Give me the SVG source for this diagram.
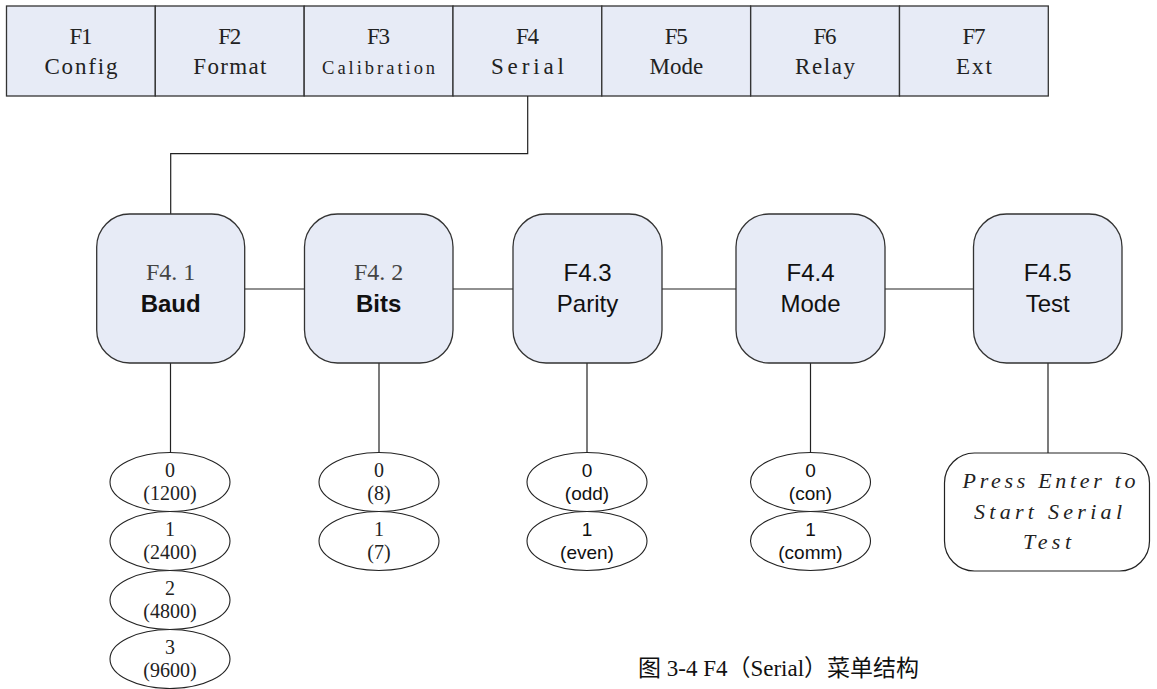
<svg xmlns="http://www.w3.org/2000/svg" width="1157" height="689" viewBox="0 0 1157 689">
<style>
.cell{fill:#E7EBF6;stroke:#333;stroke-width:1.3}
.tb{font-family:"Liberation Serif",serif;font-size:23px;fill:#222;text-anchor:middle}
.box{fill:#E7EBF6;stroke:#333;stroke-width:1.3}
.ser{font-family:"Liberation Serif",serif;font-size:24px;fill:#444;text-anchor:middle}
.sb{font-family:"Liberation Sans",Arial,sans-serif;font-size:24px;font-weight:bold;fill:#111;text-anchor:middle}
.sn{font-family:"Liberation Sans",Arial,sans-serif;font-size:24px;fill:#111;text-anchor:middle}
.el{fill:#fff;stroke:#222;stroke-width:1.1}
.et{font-family:"Liberation Serif",serif;font-size:20px;fill:#222;text-anchor:middle}
.es{font-family:"Liberation Sans",Arial,sans-serif;font-size:19px;fill:#111;text-anchor:middle}
.it{font-family:"Liberation Serif",serif;font-style:italic;font-size:22px;fill:#222;text-anchor:middle}
.cn{fill:none;stroke:#222;stroke-width:1.2}
.cap{font-family:"Liberation Serif","Noto Sans CJK SC",serif;font-size:23px;fill:#111}
</style>
<g id="menubar">
<g id="F1"><rect class="cell" x="6.5" y="6" width="148.8" height="90"/><text class="tb" x="80.9" y="44" textLength="23" lengthAdjust="spacing">F1</text><text class="tb" x="80.9" y="74" textLength="73" lengthAdjust="spacing">Config</text></g>
<g id="F2"><rect class="cell" x="155.3" y="6" width="148.8" height="90"/><text class="tb" x="229.8" y="44" textLength="23" lengthAdjust="spacing">F2</text><text class="tb" x="229.8" y="74" textLength="73" lengthAdjust="spacing">Format</text></g>
<g id="F3"><rect class="cell" x="304.2" y="6" width="148.8" height="90"/><text class="tb" x="378.6" y="44" textLength="23" lengthAdjust="spacing">F3</text><text class="tb" x="378.6" y="74" style="font-size:18.5px" textLength="113" lengthAdjust="spacing">Calibration</text></g>
<g id="F4"><rect class="cell" x="453" y="6" width="148.8" height="90"/><text class="tb" x="527.4" y="44" textLength="23" lengthAdjust="spacing">F4</text><text class="tb" x="527.4" y="74" textLength="73" lengthAdjust="spacing">Serial</text></g>
<g id="F5"><rect class="cell" x="601.8" y="6" width="148.8" height="90"/><text class="tb" x="676.3" y="44" textLength="23" lengthAdjust="spacing">F5</text><text class="tb" x="676.3" y="74">Mode</text></g>
<g id="F6"><rect class="cell" x="750.7" y="6" width="148.8" height="90"/><text class="tb" x="825.1" y="44" textLength="23" lengthAdjust="spacing">F6</text><text class="tb" x="825.1" y="74" textLength="60" lengthAdjust="spacing">Relay</text></g>
<g id="F7"><rect class="cell" x="899.5" y="6" width="148.8" height="90"/><text class="tb" x="973.9" y="44" textLength="23" lengthAdjust="spacing">F7</text><text class="tb" x="973.9" y="74" textLength="36" lengthAdjust="spacing">Ext</text></g>
</g>
<g id="connectors">
<polyline class="cn" points="527.7,96 527.7,153.7 170.7,153.7 170.7,214"/>
<line class="cn" x1="245" y1="289" x2="304" y2="289"/>
<line class="cn" x1="453" y1="289" x2="513" y2="289"/>
<line class="cn" x1="662" y1="289" x2="736" y2="289"/>
<line class="cn" x1="885" y1="289" x2="974" y2="289"/>
<line class="cn" x1="170.5" y1="363" x2="170.5" y2="453"/>
<line class="cn" x1="379" y1="363" x2="379" y2="453"/>
<line class="cn" x1="587" y1="363" x2="587" y2="453"/>
<line class="cn" x1="810.5" y1="363" x2="810.5" y2="453"/>
<line class="cn" x1="1048" y1="363" x2="1048" y2="453"/>
</g>
<g id="F4.1"><rect class="box" x="96.7" y="214" width="148" height="149" rx="33"/><text class="ser" x="170.7" y="280">F4. 1</text><text class="sb" x="170.7" y="311.5">Baud</text></g>
<g id="F4.2"><rect class="box" x="304.5" y="214" width="148.5" height="149" rx="33"/><text class="ser" x="378.7" y="280">F4. 2</text><text class="sb" x="378.7" y="311.5">Bits</text></g>
<g id="F4.3"><rect class="box" x="513" y="214" width="149" height="149" rx="33"/><text class="sn" x="587.5" y="281">F4.3</text><text class="sn" x="587.5" y="311.5">Parity</text></g>
<g id="F4.4"><rect class="box" x="736" y="214" width="149" height="149" rx="33"/><text class="sn" x="810.5" y="281">F4.4</text><text class="sn" x="810.5" y="311.5">Mode</text></g>
<g id="F4.5"><rect class="box" x="973.5" y="214" width="148.5" height="149" rx="33"/><text class="sn" x="1047.7" y="281">F4.5</text><text class="sn" x="1047.7" y="311.5">Test</text></g>
<g id="baud-opts">
<g id="baud0"><ellipse class="el" cx="170" cy="482" rx="60" ry="29.5"/><text class="et" x="170" y="477">0</text><text class="et" x="170" y="500">(1200)</text></g>
<g id="baud1"><ellipse class="el" cx="170" cy="541" rx="60" ry="29.5"/><text class="et" x="170" y="536">1</text><text class="et" x="170" y="559">(2400)</text></g>
<g id="baud2"><ellipse class="el" cx="170" cy="600" rx="60" ry="29.5"/><text class="et" x="170" y="595">2</text><text class="et" x="170" y="618">(4800)</text></g>
<g id="baud3"><ellipse class="el" cx="170" cy="659" rx="60" ry="29.5"/><text class="et" x="170" y="654">3</text><text class="et" x="170" y="677">(9600)</text></g>
</g>
<g id="bits-opts">
<g id="bits0"><ellipse class="el" cx="379" cy="482" rx="60" ry="29.5"/><text class="et" x="379" y="477">0</text><text class="et" x="379" y="500">(8)</text></g>
<g id="bits1"><ellipse class="el" cx="379" cy="541" rx="60" ry="29.5"/><text class="et" x="379" y="536">1</text><text class="et" x="379" y="559">(7)</text></g>
</g>
<g id="parity-opts">
<g id="par0"><ellipse class="el" cx="587" cy="482" rx="60" ry="29.5"/><text class="es" x="587" y="476.5">0</text><text class="es" x="587" y="500">(odd)</text></g>
<g id="par1"><ellipse class="el" cx="587" cy="541" rx="60" ry="29.5"/><text class="es" x="587" y="535.5">1</text><text class="es" x="587" y="559">(even)</text></g>
</g>
<g id="mode-opts">
<g id="mode0"><ellipse class="el" cx="810.5" cy="482" rx="60" ry="29.5"/><text class="es" x="810.5" y="476.5">0</text><text class="es" x="810.5" y="500">(con)</text></g>
<g id="mode1"><ellipse class="el" cx="810.5" cy="541" rx="60" ry="29.5"/><text class="es" x="810.5" y="535.5">1</text><text class="es" x="810.5" y="559">(comm)</text></g>
</g>
<g id="test-msg"><rect x="944.5" y="453" width="205" height="118" rx="30" fill="#fff" stroke="#222" stroke-width="1.2"/><text class="it" x="1049" y="488" textLength="173" lengthAdjust="spacing">Press Enter to</text><text class="it" x="1048" y="519" textLength="148" lengthAdjust="spacing">Start Serial</text><text class="it" x="1047" y="549" textLength="48" lengthAdjust="spacing">Test</text></g>
<text class="cap" x="638" y="676">图 3-4 F4（Serial）菜单结构</text>
</svg>
